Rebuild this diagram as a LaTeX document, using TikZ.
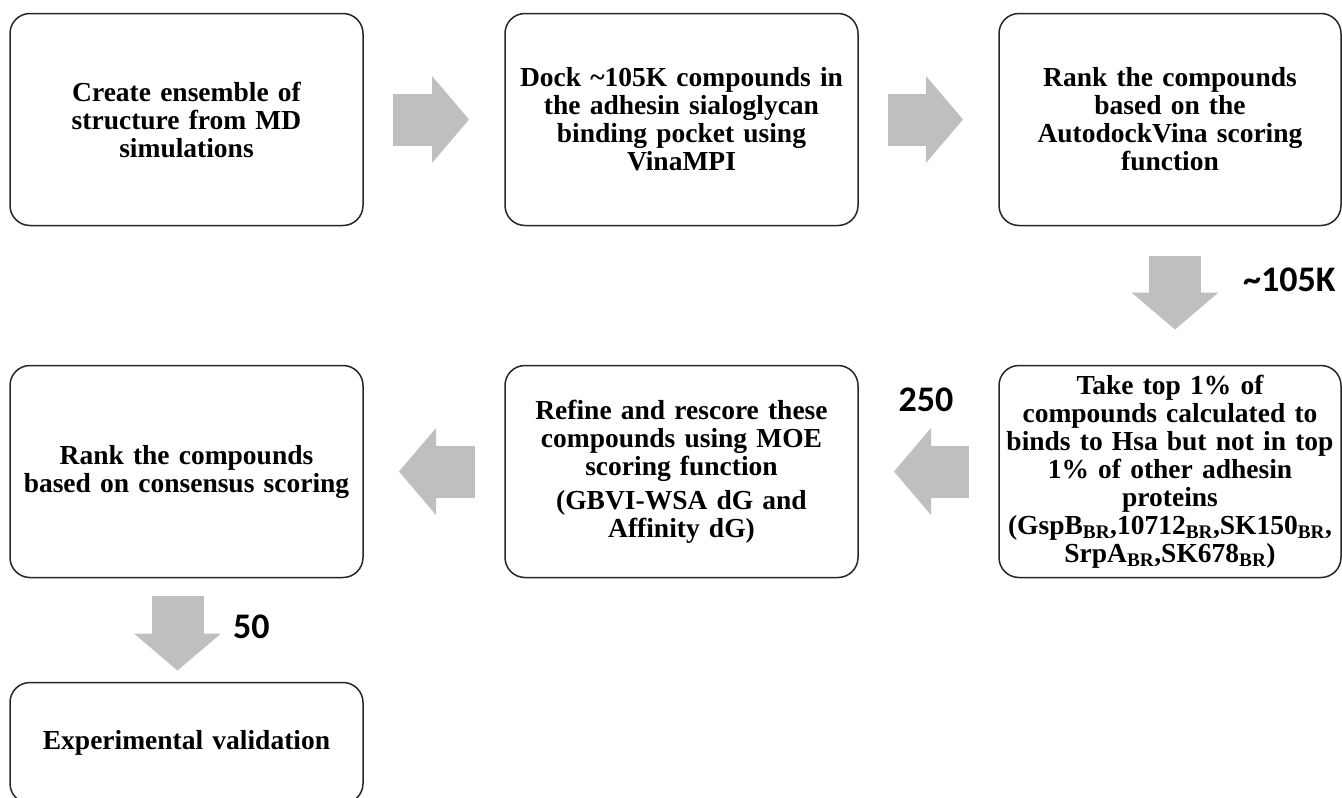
\documentclass[tikz,border=0pt]{standalone}
\usepackage{fontspec}
\setmainfont{Liberation Serif}
\newfontfamily\countfont{Carlito}
\usetikzlibrary{positioning,arrows.meta}
\definecolor{arrowgray}{RGB}{191,191,191}
\tikzstyle{stage} = [rectangle,
                    rounded corners=20pt,
                    draw=black!85,
                    line width=1.5pt,
                    minimum width=353pt,
                    minimum height=212pt,
                    text width=345pt,
                    inner sep=2pt,
                    outer sep=0pt,
                    align=center,
                    font=\bfseries\fontsize{27.5pt}{28pt}\selectfont]
\tikzstyle{count} = [inner sep=0pt,
                    font=\countfont\bfseries\fontsize{36pt}{38pt}\selectfont]
\tikzstyle{block} = [color=arrowgray,
                    line width=52pt,
                    -{Triangle[length=37pt,width=87pt,line width=0pt]},
                    shorten <=30pt,
                    shorten >=36pt]
\tikzstyle{flow} = [x=1pt,
                   y=-1pt,
                   node distance=141pt]

\begin{document}
\begin{tikzpicture}[flow]
    \useasboundingbox (0,0) rectangle (1342,798);
    \node (1) at (186.5,119.5) [stage] {Create ensemble of\\ structure from MD\\ simulations};
    \node (2) [right=142pt of 1] [stage] {Dock \textasciitilde105K compounds in\\ the adhesin sialoglycan\\ binding pocket using\\ VinaMPI};
    \node (3) [right=of 2] [stage, minimum width=342pt, text width=336pt] {Rank the compounds\\ based on the\\ AutodockVina scoring\\ function};
    \node (4) [below=140pt of 3] [stage, minimum width=342pt, text width=336pt] {Take top 1\% of\\ compounds calculated to\\ binds to Hsa but not in top\\ 1\% of other adhesin\\ proteins\\ (GspB\textsubscript{BR},10712\textsubscript{BR},SK150\textsubscript{BR},\\ SrpA\textsubscript{BR},SK678\textsubscript{BR})};
    \node (5) [left=of 4] [stage] {Refine and rescore these\\ compounds using MOE\\ scoring function\\[6pt] (GBVI-WSA dG and\\ Affinity dG)};
    \node (6) [left=142pt of 5] [stage] {Rank the compounds\\ based on consensus scoring};
    \node (7) [below=105pt of 6] [stage, minimum height=121pt] {Experimental validation};
    \path[block]
      (1) edge (2)
      (2) edge (3)
      ([xshift=5pt]3.south) edge ([xshift=5pt]4.north)
      (4) edge (5)
      (5) edge (6)
      ([xshift=-9pt]6.south) edge [shorten <=18pt, shorten >=12pt] ([xshift=-9pt]7.north);
    \node (k105) at (1243,280) [count, anchor=west] {\textasciitilde105K};
    \node (k250) at (926,400) [count] {250};
    \node (k50) at (233,627) [count, anchor=west] {50};
  \end{tikzpicture}
\end{document}
